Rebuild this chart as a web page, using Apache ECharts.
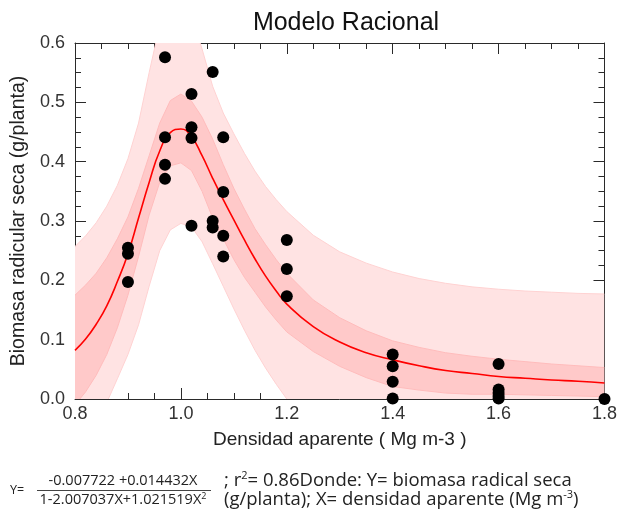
<!DOCTYPE html>
<html><head><meta charset="utf-8">
<script src="https://cdn.jsdelivr.net/npm/echarts@6/dist/echarts.min.js"></script>
<style>html,body{margin:0;padding:0;background:#fff}#c{width:620px;height:514px}</style>
</head><body><div id="c"></div>
<script>
// X grid used by the fitted curve and bands
const bandX = [0.80,0.82,0.84,0.86,0.88,0.90,0.92,0.94,0.96,0.98,1.00,1.02,1.04,1.06,1.08,1.10,1.12,1.14,1.16,1.18,1.20,1.25,1.30,1.35,1.40,1.45,1.50,1.55,1.60,1.65,1.70,1.75,1.80];
const curveY = [0.082,0.101,0.126,0.157,0.198,0.245,0.305,0.365,0.418,0.449,0.455,0.442,0.410,0.372,0.336,0.302,0.268,0.236,0.207,0.182,0.160,0.122,0.096,0.078,0.066,0.056,0.048,0.043,0.038,0.035,0.032,0.030,0.027];
// prediction band (light)
const predUpper = [0.257,0.275,0.297,0.325,0.360,0.405,0.465,0.550,0.630,0.660,0.665,0.645,0.590,0.527,0.482,0.447,0.414,0.384,0.358,0.336,0.316,0.276,0.248,0.229,0.214,0.203,0.195,0.189,0.185,0.182,0.180,0.178,0.177];
const predLower = [-0.090,-0.070,-0.040,-0.006,0.034,0.075,0.125,0.190,0.250,0.285,0.296,0.290,0.265,0.228,0.190,0.152,0.116,0.082,0.052,0.025,0.000,-0.040,-0.060,-0.075,-0.090,-0.100,-0.105,-0.110,-0.112,-0.115,-0.117,-0.119,-0.120];
// confidence band (dark)
const confUpper = [0.175,0.192,0.212,0.238,0.270,0.307,0.355,0.410,0.465,0.503,0.514,0.502,0.475,0.438,0.395,0.355,0.320,0.287,0.260,0.235,0.212,0.167,0.137,0.115,0.098,0.087,0.078,0.072,0.067,0.063,0.059,0.056,0.053];
const confLower = [-0.010,0.012,0.040,0.075,0.120,0.175,0.240,0.310,0.365,0.393,0.398,0.385,0.350,0.305,0.270,0.235,0.205,0.180,0.155,0.133,0.113,0.080,0.055,0.036,0.021,0.015,0.010,0.008,0.008,0.007,0.006,0.005,0.004];
// observed points
const pointsX = [0.90,0.90,0.90,0.97,0.97,0.97,0.97,1.02,1.02,1.02,1.02,1.06,1.06,1.06,1.08,1.08,1.08,1.08,1.20,1.20,1.20,1.40,1.40,1.40,1.40,1.60,1.60,1.60,1.60,1.60,1.80];
const pointsY = [0.255,0.245,0.197,0.576,0.441,0.395,0.371,0.514,0.458,0.440,0.292,0.551,0.300,0.289,0.441,0.349,0.275,0.240,0.268,0.219,0.173,0.075,0.055,0.029,0.001,0.059,0.016,0.010,0.005,0.001,0.000];
const xTicks = [0.8,1.0,1.2,1.4,1.6,1.8];
const yTicks = [0.0,0.1,0.2,0.3,0.4,0.5,0.6];

const chart = echarts.init(document.getElementById('c'), null, {renderer:'canvas'});
const AX = '#2a2a2a';
function bandSeries(name, up, lo, fill, edge){
  return {
    type:'custom', name, clip:true, z:1,
    xAxisIndex:0, yAxisIndex:0,
    data: bandX.map((x,i)=>[x, lo[i], up[i]]),
    encode:{x:0, y:[1,2]},
    renderItem(params, api){
      if (params.dataIndex !== 0) return null;
      const top = bandX.map((x,i)=>api.coord([x, up[i]]));
      const bot = bandX.map((x,i)=>api.coord([x, lo[i]])).reverse();
      const cs = params.coordSys;
      return {
        type:'group',
        clipPath:{type:'rect', shape:{x:cs.x, y:cs.y, width:cs.width, height:cs.height}},
        children:[
          {type:'polygon', shape:{points: top.concat(bot)}, style:{fill, stroke:'none'}},
          {type:'polyline', shape:{points: top}, style:{fill:'none', stroke:edge, lineWidth:1}},
          {type:'polyline', shape:{points: bot}, style:{fill:'none', stroke:edge, lineWidth:1}}
        ]
      };
    }
  };
}
function xAx(pos, show){
  return {type:'value', position:pos, min:0.8, max:1.8, interval:0.2,
    axisLine:{show:true, onZero:false, lineStyle:{color:AX, width:1}},
    axisTick:{show:true, inside:true, length:11, lineStyle:{color:AX}},
    minorTick:{show:true, splitNumber:4, length:6, lineStyle:{color:AX}},
    splitLine:{show:false}, minorSplitLine:{show:false},
    axisLabel:{show:show, margin:6, fontSize:18, color:'#333', fontFamily:'Liberation Sans',
      formatter:v=>xTicks.find(t=>Math.abs(t-v)<1e-6).toFixed(1)},
    name: show ? 'Densidad aparente ( Mg m-3 )' : '', nameLocation:'middle', nameGap:31,
    nameTextStyle:{fontSize:19, color:'#222', fontFamily:'Liberation Sans'}
  };
}
function yAx(pos, show){
  return {type:'value', position:pos, min:0, max:0.6, interval:0.1,
    axisLine:{show:true, onZero:false, lineStyle:{color:AX, width:1}},
    axisTick:{show:true, inside:true, length:11, lineStyle:{color:AX}},
    minorTick:{show:true, splitNumber:4, length:6, lineStyle:{color:AX}},
    splitLine:{show:false}, minorSplitLine:{show:false},
    axisLabel:{show:show, margin:10, fontSize:18, color:'#333', fontFamily:'Liberation Sans',
      formatter:v=>yTicks.find(t=>Math.abs(t-v)<1e-6).toFixed(1)},
    name: show ? 'Biomasa radicular seca (g/planta)' : '', nameLocation:'middle', nameGap:45,
    nameTextStyle:{fontSize:19.5, color:'#222', fontFamily:'Liberation Sans'}
  };
}
const txt = '#222';
const FF = 'Open Sans';
chart.setOption({
  animation:false,
  backgroundColor:'#fff',
  title:{text:'Modelo Racional', left:341, top:6, textAlign:'center',
    textStyle:{fontSize:25, fontWeight:'normal', color:'#111', fontFamily:'Liberation Sans'}},
  grid:{left:75, right:15, top:43, bottom:115, containLabel:false},
  xAxis:[xAx('bottom', true), xAx('top', false)],
  yAxis:[yAx('left', true), yAx('right', false)],
  series:[
    bandSeries('Predicción', predUpper, predLower, '#ffe3e3', '#ffd2d2'),
    bandSeries('Confianza', confUpper, confLower, '#ffc9c9', '#ffbcbc'),
    {type:'line', name:'Modelo', data: bandX.map((x,i)=>[x, curveY[i]]), smooth:true, showSymbol:false,
      lineStyle:{color:'#ff0000', width:1.6}, z:3, clip:true},
    {type:'scatter', name:'Datos', data: pointsX.map((x,i)=>[x, pointsY[i]]), symbol:'circle', symbolSize:12,
      itemStyle:{color:'#000', opacity:1}, z:4, clip:false}
  ],
  graphic:[
    {type:'text', left:10, top:484, style:{text:'Y=', fontSize:12.5, fill:txt, fontFamily:FF}},
    {type:'text', x:123, y:481, style:{text:'-0.007722 +0.014432X', fontSize:14.5, fill:txt, fontFamily:FF, align:'center', verticalAlign:'middle'}},
    {type:'line', shape:{x1:37, y1:490.5, x2:211, y2:490.5}, style:{stroke:'#444', lineWidth:1}},
    {type:'text', x:123, y:500, style:{text:'1-2.007037X+1.021519X{s|2}', fontSize:14.5, fill:txt, fontFamily:FF, align:'center', verticalAlign:'middle',
      rich:{s:{fontSize:9, fill:txt, fontFamily:FF, padding:[0,0,8,0]}}}},
    {type:'text', x:224, y:481, style:{text:'; r{s|2}= 0.86Donde: Y= biomasa radical seca', fontSize:18.5, fill:txt, fontFamily:FF, verticalAlign:'middle',
      rich:{s:{fontSize:11, fill:txt, fontFamily:FF, padding:[0,0,10,0]}}}},
    {type:'text', x:224, y:500, style:{text:'(g/planta); X= densidad aparente (Mg m{s|-3})', fontSize:18.5, fill:txt, fontFamily:FF, verticalAlign:'middle',
      rich:{s:{fontSize:11, fill:txt, fontFamily:FF, padding:[0,0,10,0]}}}}
  ]
});
</script></body></html>
